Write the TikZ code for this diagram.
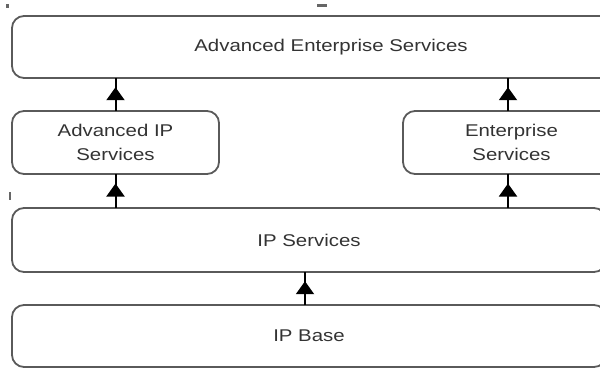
\documentclass[tikz,border=0pt]{standalone}
\usepackage{fontspec}
\setmainfont{Liberation Sans}[FakeStretch=1.2]
\usetikzlibrary{arrows.meta,decorations.markings}
\definecolor{boxline}{HTML}{5A5A5A}
\definecolor{labeltext}{HTML}{333333}
\tikzset{
  layer/.style={draw=boxline, line width=1.8pt, rounded corners=12pt,
    rectangle, inner sep=0pt, outer sep=0pt, text=labeltext,
    font=\fontsize{17}{24}\selectfont, align=center},
  uparrow/.style={draw=black, line width=2pt,
    postaction={decorate, decoration={markings,
      mark=at position 0.72 with {\arrow{Triangle[width=18pt,length=13pt]}}}}},
  speck/.style={fill=black!60, draw=none}
}
\begin{document}
\begin{tikzpicture}[x=1pt, y=-1pt]
  \useasboundingbox (0,0) rectangle (600,369);
  \clip (0,0) rectangle (600,369);

  % layered service tiers
  \node[layer, minimum width=638pt, minimum height=62pt] (aes) at (331,47) {Advanced Enterprise Services};
  \node[layer, minimum width=207pt, minimum height=63pt] (aip) at (115.5,142.5) {Advanced IP\\Services};
  \node[layer, minimum width=217pt, minimum height=63pt] (ent) at (511.5,142.5) {Enterprise\\Services};
  \node[layer, minimum width=594pt, minimum height=64pt] (ips) at (309,240) {IP Services};
  \node[layer, minimum width=594pt, minimum height=62pt] (base) at (309,336) {IP Base};

  % upgrade paths
  \draw[uparrow] (aip.north) -- (aip.north |- aes.south);
  \draw[uparrow] ([xshift=-3.5pt]ent.north) -- ([xshift=-3.5pt]ent.north |- aes.south);
  \draw[uparrow] (ips.north -| aip.south) -- (aip.south);
  \draw[uparrow] (ips.north -| ent.south) ++(-3.5,0) coordinate (e0) -- (e0 |- ent.south);
  \draw[uparrow] ([xshift=-4pt]base.north) -- ([xshift=-4pt]base.north |- ips.south);

  % small specks along the edges
  \fill[speck] (6,4.5) rectangle (8.5,8);
  \fill[speck] (317,4.5) rectangle (327,7.5);
  \fill[speck] (8.5,192) rectangle (11,200);
\end{tikzpicture}
\end{document}
